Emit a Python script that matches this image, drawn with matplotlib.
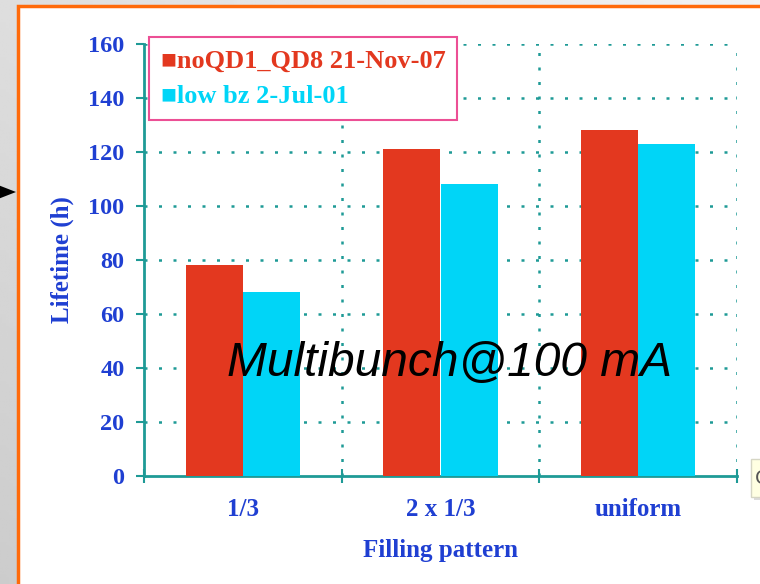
import numpy as np
import matplotlib.pyplot as plt
from matplotlib.patches import Rectangle, Polygon

# lifetime for each filling pattern, two machine settings
patterns = ['1/3', '2 x 1/3', 'uniform']
life_qd = [78, 121, 128]      # noQD1_QD8 21-Nov-07
life_lowbz = [68, 108, 123]   # low bz 2-Jul-01
series_names = ['noQD1_QD8 21-Nov-07', 'low bz 2-Jul-01']
yticks = [0, 20, 40, 60, 80, 100, 120, 140, 160]

RED = '#e3381f'
CYAN = '#00d5f7'
TEAL = '#1e9a96'
BLUE = '#1f3fd2'
SERIF = ['Liberation Serif', 'DejaVu Serif']

W, H = 760, 584
fig = plt.figure(figsize=(W / 100, H / 100), dpi=100)

# grey backdrop with a soft shading
bg = fig.add_axes([0, 0, 1, 1], zorder=-10)
gx = np.linspace(0, 1, 200)
gy = np.linspace(0, 1, 200)
GX, GY = np.meshgrid(gx, gy)
shade = 0.80 + 0.08 * GX + 0.07 * (1 - GY)
bg.imshow(shade, cmap='gray', vmin=0, vmax=1, aspect='auto', extent=[0, 1, 0, 1])
bg.set_axis_off()

def px(x, y):
    return (x / W, 1 - y / H)

# white slide panel with orange frame
fig.patches.append(Rectangle(px(18, 700), 1.2, (700 - 6) / H, transform=fig.transFigure,
                             facecolor='white', edgecolor='#ff6a0a', lw=2.5, zorder=-5))
# pointer arrow on the left edge
fig.patches.append(Polygon([px(-2, 185), px(16, 192), px(-2, 199)], closed=True,
                           transform=fig.transFigure, facecolor='black', edgecolor='none'))
# tooltip poking in at lower right
fig.patches.append(Rectangle(px(754, 500), 0.05, 38 / H, transform=fig.transFigure,
                             facecolor='#b8b8b8', edgecolor='none', alpha=0.5))
fig.patches.append(Rectangle(px(751, 497), 0.05, 38 / H, transform=fig.transFigure,
                             facecolor='#ffffe2', edgecolor='#d6d6c4', lw=1))
fig.text(*px(755, 479), 'C', fontsize=14, color='#555555', va='center', ha='left')

ax = fig.add_axes([144 / W, 1 - 476 / H, 593 / W, 432 / H])
x = np.arange(len(patterns))
bw = 0.29
ax.bar(x - bw / 2, life_qd, bw, color=RED, label='\u25a0' + series_names[0], zorder=3)
ax.bar(x + bw / 2, life_lowbz, bw, color=CYAN, label='\u25a0' + series_names[1], zorder=3)

ax.set_xlim(-0.5, 2.5)
ax.set_ylim(0, 160)

dots = (0, (1.2, 4.6))
for yv in yticks[1:]:
    ax.axhline(yv, color=TEAL, lw=1.8, ls=dots, zorder=1)
for xv in [0.5, 1.5, 2.5]:
    ax.axvline(xv, color=TEAL, lw=1.8, ls=dots, zorder=1)

for s in ['top', 'right']:
    ax.spines[s].set_visible(False)
for s in ['left', 'bottom']:
    ax.spines[s].set_color(TEAL)
    ax.spines[s].set_linewidth(2)

ax.set_yticks(yticks)
ax.tick_params(axis='y', direction='out', length=6, width=1.5, color=TEAL, pad=8,
               labelsize=17.5, labelcolor=BLUE)
ax.set_xticks([-0.5, 0.5, 1.5, 2.5])
ax.set_xticklabels([])
ax.tick_params(axis='x', which='major', direction='inout', length=10, width=1.5, color=TEAL)
ax.set_xticks(x, minor=True)
ax.set_xticklabels(patterns, minor=True)
ax.tick_params(axis='x', which='minor', length=0, pad=16, labelsize=18, labelcolor=BLUE)
for lab in ax.get_yticklabels() + ax.get_xticklabels(minor=True):
    lab.set_fontfamily(SERIF)
    lab.set_fontweight('bold')

ax.set_ylabel('Lifetime (h)', fontsize=18, fontweight='bold', color=BLUE,
              family=SERIF, labelpad=10)
ax.set_xlabel('Filling pattern', fontsize=18, fontweight='bold', color=BLUE,
              family=SERIF, labelpad=13)

leg = ax.legend(loc='upper left', bbox_to_anchor=(0.008, 1.016), borderaxespad=0,
                handlelength=0, handletextpad=0, fancybox=False, framealpha=1,
                edgecolor='#ec4f95', prop={'family': SERIF, 'weight': 'bold', 'size': 19},
                borderpad=0.45, labelspacing=0.45)
leg.get_frame().set_linewidth(1.5)
leg.set_zorder(5)
for t, c in zip(leg.get_texts(), [RED, CYAN]):
    t.set_color(c)

ax.text(0.516, 0.26, 'Multibunch@100 mA', transform=ax.transAxes, ha='center', va='center',
        fontsize=34.5, style='italic', family=['Liberation Sans', 'DejaVu Sans'],
        color='black', zorder=6)

fig.savefig('out.png', dpi=100)
